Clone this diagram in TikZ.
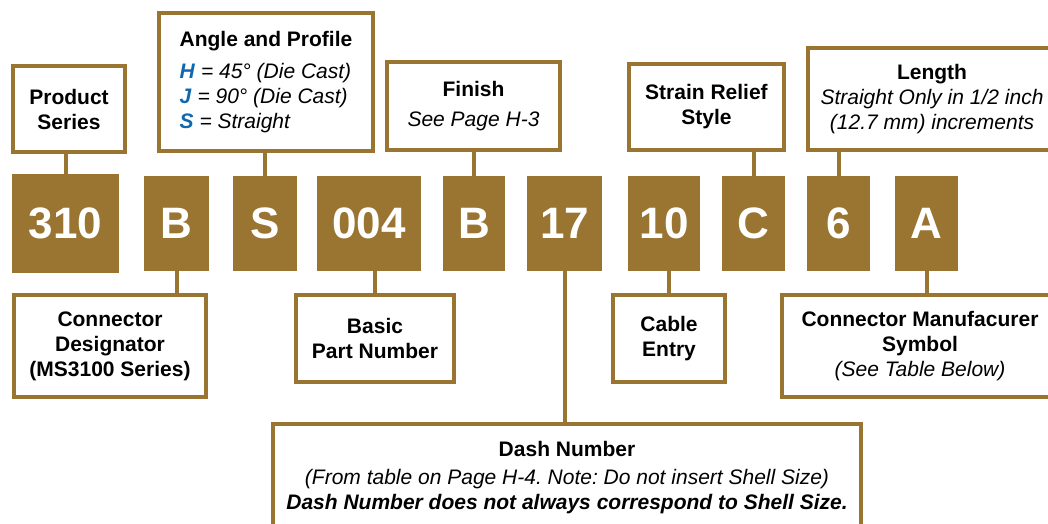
\documentclass[tikz,border=0pt]{standalone}
\usepackage{fontspec}
\setmainfont{Liberation Sans}
\usepackage{xcolor}
\definecolor{bronze}{RGB}{154,117,49}
\definecolor{codeblue}{RGB}{16,104,176}
\frenchspacing

\begin{document}
\begin{tikzpicture}[x=1pt, y=-1pt]
            \tikzstyle{codebox} = [rectangle, fill=bronze, text=white, font=\fontsize{44}{44}\selectfont\bfseries, minimum height=95pt, inner sep=0pt]
            \tikzstyle{infobox} = [rectangle, draw=bronze, line width=4pt, fill=white, align=center, font=\fontsize{21}{25}\selectfont, inner sep=2pt]
            \tikzstyle{link} = [draw=bronze, line width=4pt]

            \path [use as bounding box, clip] (0,0) rectangle (1048,523);

            % part number codes
            \node [codebox, minimum width=107pt, minimum height=99pt] (c310) at (65.5,223.5) {310};
            \node [codebox, minimum width=65pt] (cB) at (176.5,223.5) {B};
            \node [codebox, minimum width=64pt] (cS) at (265,223.5) {S};
            \node [codebox, minimum width=104pt] (c004) at (369,223.5) {004};
            \node [codebox, minimum width=62pt] (cB2) at (474,223.5) {B};
            \node [codebox, minimum width=75pt] (c17) at (564.5,223.5) {17};
            \node [codebox, minimum width=72pt] (c10) at (664,223.5) {10};
            \node [codebox, minimum width=63pt] (cC) at (753.5,223.5) {C};
            \node [codebox, minimum width=63pt] (c6) at (838.5,223.5) {6};
            \node [codebox, minimum width=63pt] (cA) at (926.5,223.5) {A};

            % upper boxes
            \node [infobox, minimum width=112pt, minimum height=86pt] (series) at (69,109) {\textbf{Product}\\\textbf{Series}};
            \node [infobox, minimum width=214pt, minimum height=138pt] (angle) at (266,82) {\begin{tabular}{@{}l@{}}
                \multicolumn{1}{@{}c@{}}{\textbf{Angle and Profile}}\\[7pt]
                \textcolor{codeblue}{\textbf{\textit{H}}} \textit{= 45° (Die Cast)}\\
                \textcolor{codeblue}{\textbf{\textit{J}}} \textit{= 90° (Die Cast)}\\
                \textcolor{codeblue}{\textbf{\textit{S}}} \textit{= Straight}
            \end{tabular}};
            \node [infobox, minimum width=173pt, minimum height=88pt] (finish) at (473.5,106) {\textbf{Finish}\\[5pt]\textit{See Page H-3}};
            \node [infobox, minimum width=155pt, minimum height=86pt] (strain) at (706.5,107) {\textbf{Strain Relief}\\\textbf{Style}};
            \node [infobox, minimum width=248pt, minimum height=102pt] (length) at (932,99) {\textbf{Length}\\\textit{Straight Only in 1/2 inch}\\\textit{(12.7 mm) increments}};

            % lower boxes
            \node [infobox, minimum width=192pt, minimum height=102pt] (desig) at (110,346) {\textbf{Connector}\\\textbf{Designator}\\\textbf{(MS3100 Series)}};
            \node [infobox, minimum width=158pt, minimum height=87pt] (basic) at (375,338.5) {\textbf{Basic}\\\textbf{Part Number}};
            \node [infobox, minimum width=112pt, minimum height=87pt] (cable) at (669,338.5) {\textbf{Cable}\\\textbf{Entry}};
            \node [infobox, minimum width=276pt, minimum height=102pt] (manuf) at (920,346) {\textbf{Connector Manufacurer}\\\textbf{Symbol}\\\textit{(See Table Below)}};
            \node [infobox, minimum width=588pt, minimum height=108pt] (dash) at (567,478) {\textbf{Dash Number}\\[3pt]\textit{(From table on Page H-4. Note: Do not insert Shell Size)}\\\textbf{\textit{Dash Number does not always correspond to Shell Size.}}};

            \path [link] (c310.north) -- (c310.north |- series.south);
            \path [link] (cS.north) -- (cS.north |- angle.south);
            \path [link] (cB2.north) -- (cB2.north |- finish.south);
            \path [link] (cC.north) -- (cC.north |- strain.south);
            \path [link] (c6.north) -- (c6.north |- length.south);
            \path [link] (cB.south) -- (cB.south |- desig.north);
            \path [link] (basic.north) -- (basic.north |- c004.south);
            \path [link] (c17.south) -- (c17.south |- dash.north);
            \path [link] (cable.north) -- (cable.north |- c10.south);
            \path [link] (cA.south) -- (cA.south |- manuf.north);
        \end{tikzpicture}
\end{document}
